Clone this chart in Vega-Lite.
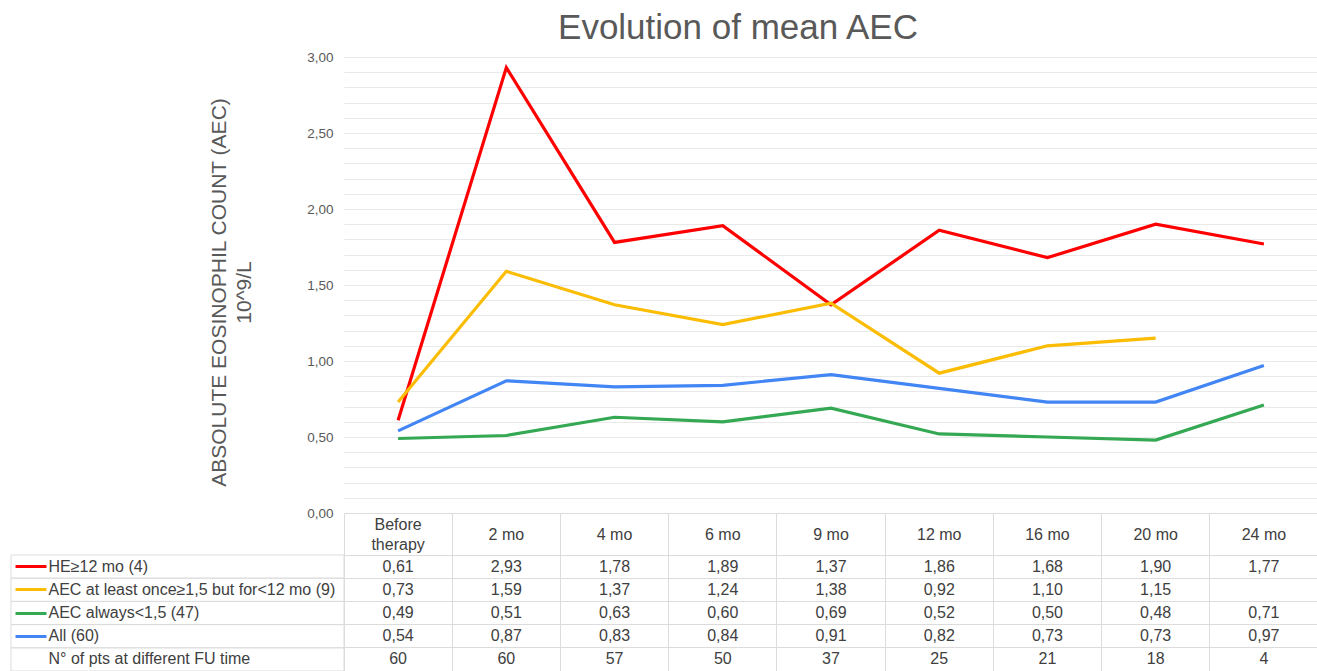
{
  "$schema": "https://vega.github.io/schema/vega-lite/v6.json",
  "background": "white",
  "padding": {"left": 10, "top": 11, "right": 0, "bottom": 0},
  "autosize": {"type": "pad"},
  "config": {
    "view": {"stroke": null},
    "font": "Liberation Sans",
    "locale": {"number": {"decimal": ",", "thousands": ".", "grouping": [3], "currency": ["", " €"]}}
  },
  "datasets": {
    "aec": [
      {"series": "HE≥12 mo (4)", "time": "Before therapy", "value": 0.61},
      {"series": "HE≥12 mo (4)", "time": "2 mo", "value": 2.93},
      {"series": "HE≥12 mo (4)", "time": "4 mo", "value": 1.78},
      {"series": "HE≥12 mo (4)", "time": "6 mo", "value": 1.89},
      {"series": "HE≥12 mo (4)", "time": "9 mo", "value": 1.37},
      {"series": "HE≥12 mo (4)", "time": "12 mo", "value": 1.86},
      {"series": "HE≥12 mo (4)", "time": "16 mo", "value": 1.68},
      {"series": "HE≥12 mo (4)", "time": "20 mo", "value": 1.90},
      {"series": "HE≥12 mo (4)", "time": "24 mo", "value": 1.77},
      {"series": "AEC at least once≥1,5 but for<12 mo (9)", "time": "Before therapy", "value": 0.73},
      {"series": "AEC at least once≥1,5 but for<12 mo (9)", "time": "2 mo", "value": 1.59},
      {"series": "AEC at least once≥1,5 but for<12 mo (9)", "time": "4 mo", "value": 1.37},
      {"series": "AEC at least once≥1,5 but for<12 mo (9)", "time": "6 mo", "value": 1.24},
      {"series": "AEC at least once≥1,5 but for<12 mo (9)", "time": "9 mo", "value": 1.38},
      {"series": "AEC at least once≥1,5 but for<12 mo (9)", "time": "12 mo", "value": 0.92},
      {"series": "AEC at least once≥1,5 but for<12 mo (9)", "time": "16 mo", "value": 1.10},
      {"series": "AEC at least once≥1,5 but for<12 mo (9)", "time": "20 mo", "value": 1.15},
      {"series": "AEC always<1,5 (47)", "time": "Before therapy", "value": 0.49},
      {"series": "AEC always<1,5 (47)", "time": "2 mo", "value": 0.51},
      {"series": "AEC always<1,5 (47)", "time": "4 mo", "value": 0.63},
      {"series": "AEC always<1,5 (47)", "time": "6 mo", "value": 0.60},
      {"series": "AEC always<1,5 (47)", "time": "9 mo", "value": 0.69},
      {"series": "AEC always<1,5 (47)", "time": "12 mo", "value": 0.52},
      {"series": "AEC always<1,5 (47)", "time": "16 mo", "value": 0.50},
      {"series": "AEC always<1,5 (47)", "time": "20 mo", "value": 0.48},
      {"series": "AEC always<1,5 (47)", "time": "24 mo", "value": 0.71},
      {"series": "All (60)", "time": "Before therapy", "value": 0.54},
      {"series": "All (60)", "time": "2 mo", "value": 0.87},
      {"series": "All (60)", "time": "4 mo", "value": 0.83},
      {"series": "All (60)", "time": "6 mo", "value": 0.84},
      {"series": "All (60)", "time": "9 mo", "value": 0.91},
      {"series": "All (60)", "time": "12 mo", "value": 0.82},
      {"series": "All (60)", "time": "16 mo", "value": 0.73},
      {"series": "All (60)", "time": "20 mo", "value": 0.73},
      {"series": "All (60)", "time": "24 mo", "value": 0.97}
    ],
    "counts": [
      {"series": "N° of pts at different FU time", "time": "Before therapy", "n": 60},
      {"series": "N° of pts at different FU time", "time": "2 mo", "n": 60},
      {"series": "N° of pts at different FU time", "time": "4 mo", "n": 57},
      {"series": "N° of pts at different FU time", "time": "6 mo", "n": 50},
      {"series": "N° of pts at different FU time", "time": "9 mo", "n": 37},
      {"series": "N° of pts at different FU time", "time": "12 mo", "n": 25},
      {"series": "N° of pts at different FU time", "time": "16 mo", "n": 21},
      {"series": "N° of pts at different FU time", "time": "20 mo", "n": 18},
      {"series": "N° of pts at different FU time", "time": "24 mo", "n": 4}
    ],
    "times": [
      {"time": "Before therapy", "label": "Before\ntherapy"},
      {"time": "2 mo", "label": "2 mo"},
      {"time": "4 mo", "label": "4 mo"},
      {"time": "6 mo", "label": "6 mo"},
      {"time": "9 mo", "label": "9 mo"},
      {"time": "12 mo", "label": "12 mo"},
      {"time": "16 mo", "label": "16 mo"},
      {"time": "20 mo", "label": "20 mo"},
      {"time": "24 mo", "label": "24 mo"}
    ],
    "rows": [
      {"series": "HE≥12 mo (4)"},
      {"series": "AEC at least once≥1,5 but for<12 mo (9)"},
      {"series": "AEC always<1,5 (47)"},
      {"series": "All (60)"},
      {"series": "N° of pts at different FU time"}
    ]
  },
  "columns": 2,
  "spacing": 0,
  "bounds": "flush",
  "resolve": {
    "scale": {"x": "independent", "y": "independent", "color": "independent"},
    "axis": {"x": "independent", "y": "independent"}
  },
  "concat": [
    {
      "width": 333, "height": 456,
      "data": {"values": []},
      "mark": "text",
      "encoding": {}
    },
    {
      "width": 974, "height": 456,
      "title": {"text": "Evolution of mean AEC", "fontSize": 35, "fontWeight": "normal", "color": "#595959", "anchor": "middle", "frame": "group", "dx": -93, "offset": 4},
      "data": {"name": "aec"},
      "mark": {"type": "line", "strokeWidth": 3.2, "strokeJoin": "miter"},
      "encoding": {
        "x": {"field": "time", "type": "nominal", "sort": null,
              "scale": {"type": "point", "padding": 0.5, "domain": ["Before therapy", "2 mo", "4 mo", "6 mo", "9 mo", "12 mo", "16 mo", "20 mo", "24 mo"]},
              "axis": null},
        "y": {"field": "value", "type": "quantitative",
              "scale": {"domain": [0, 3], "nice": false},
              "axis": {"title": ["ABSOLUTE EOSINOPHIL COUNT (AEC)", "10^9/L"], "titleFontSize": 21, "titleFontWeight": "normal", "titleColor": "#595959", "titleLineHeight": 25, "titlePadding": 52, "titleY": 235,
                       "tickCount": 30, "ticks": false, "domain": false, "grid": true, "gridColor": "#e9e9e9", "gridWidth": 1,
                       "labelExpr": "abs(datum.value*2 - round(datum.value*2)) < 0.000001 ? replace(format(datum.value, '.2f'), '.', ',') : ''",
                       "labelOverlap": false, "labelFontSize": 13.5, "labelColor": "#595959", "labelPadding": 11}},
        "color": {"field": "series", "type": "nominal",
                  "scale": {"domain": ["HE≥12 mo (4)", "AEC at least once≥1,5 but for<12 mo (9)", "AEC always<1,5 (47)", "All (60)"], "range": ["#FF0000", "#FBBC04", "#34A853", "#4285F4"]},
                  "legend": null}
      }
    },
    {
      "width": 333, "height": 42,
      "data": {"values": []},
      "mark": "text",
      "encoding": {}
    },
    {
      "width": 974, "height": 42,
      "data": {"name": "times"},
      "encoding": {
        "x": {"field": "time", "type": "nominal", "sort": null,
              "scale": {"type": "band", "paddingInner": 0, "paddingOuter": 0, "domain": ["Before therapy", "2 mo", "4 mo", "6 mo", "9 mo", "12 mo", "16 mo", "20 mo", "24 mo"]},
              "axis": {"orient": "top", "title": null, "labels": false, "ticks": false, "domain": true, "domainColor": "#dcdcdc", "grid": true, "gridColor": "#dcdcdc", "bandPosition": 0}},
        "text": {"field": "label"}
      },
      "layer": [
        {
          "transform": [{"filter": "datum.time !== 'Before therapy'"}],
          "mark": {"type": "text", "fontSize": 16, "color": "#404040", "dy": 1}
        },
        {
          "transform": [{"filter": "datum.time === 'Before therapy'"}],
          "mark": {"type": "text", "lineBreak": "\n", "fontSize": 16, "color": "#404040", "lineHeight": 20, "dy": -9}
        }
      ]
    },
    {
      "width": 333, "height": 116,
      "data": {"name": "rows"},
      "mark": {"type": "rect", "filled": false, "stroke": "#dcdcdc", "strokeWidth": 1},
      "encoding": {
        "y": {"field": "series", "type": "nominal", "sort": null,
              "scale": {"type": "band", "paddingInner": 0, "paddingOuter": 0, "domain": ["HE≥12 mo (4)", "AEC at least once≥1,5 but for<12 mo (9)", "AEC always<1,5 (47)", "All (60)", "N° of pts at different FU time"]},
              "axis": {"orient": "left", "title": null, "offset": -4, "domain": false, "grid": false,
                       "ticks": true, "tickSize": -31, "tickWidth": 3,
                       "tickColor": {"condition": [
                         {"test": "datum.value === 'HE≥12 mo (4)'", "value": "#FF0000"},
                         {"test": "datum.value === 'AEC at least once≥1,5 but for<12 mo (9)'", "value": "#FBBC04"},
                         {"test": "datum.value === 'AEC always<1,5 (47)'", "value": "#34A853"},
                         {"test": "datum.value === 'All (60)'", "value": "#4285F4"}
                       ], "value": "transparent"},
                       "labelAlign": "left", "labelPadding": -2, "labelFontSize": 16, "labelColor": "#404040", "labelLimit": 400}}
      }
    },
    {
      "width": 974, "height": 116,
      "layer": [
        {
          "data": {"name": "aec"},
          "mark": {"type": "text", "fontSize": 16, "color": "#404040"},
          "encoding": {
            "x": {"field": "time", "type": "nominal", "sort": null,
                  "scale": {"type": "band", "paddingInner": 0, "paddingOuter": 0, "domain": ["Before therapy", "2 mo", "4 mo", "6 mo", "9 mo", "12 mo", "16 mo", "20 mo", "24 mo"]},
                  "axis": {"title": null, "labels": false, "ticks": false, "domain": false, "grid": true, "gridColor": "#dcdcdc", "bandPosition": 0}},
            "y": {"field": "series", "type": "nominal", "sort": null,
                  "scale": {"type": "band", "paddingInner": 0, "paddingOuter": 0, "domain": ["HE≥12 mo (4)", "AEC at least once≥1,5 but for<12 mo (9)", "AEC always<1,5 (47)", "All (60)", "N° of pts at different FU time"]},
                  "axis": {"title": null, "labels": false, "ticks": false, "domain": false, "grid": true, "gridColor": "#dcdcdc", "bandPosition": 0}},
            "text": {"field": "value", "type": "quantitative", "format": ".2f"}
          }
        },
        {
          "data": {"name": "counts"},
          "mark": {"type": "text", "fontSize": 16, "color": "#404040"},
          "encoding": {
            "x": {"field": "time", "type": "nominal", "sort": null},
            "y": {"field": "series", "type": "nominal", "sort": null},
            "text": {"field": "n", "type": "quantitative", "format": "d"}
          }
        }
      ]
    }
  ]
}
